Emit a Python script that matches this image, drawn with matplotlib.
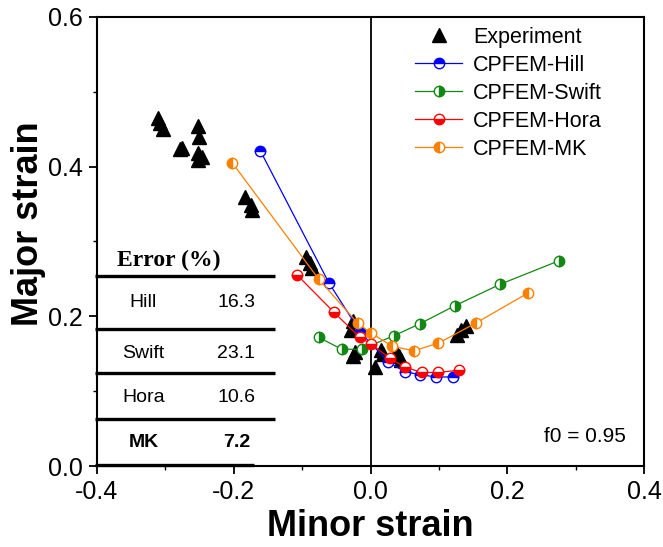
import matplotlib
matplotlib.use("Agg")
import matplotlib.pyplot as plt
from matplotlib.ticker import MultipleLocator, FormatStrFormatter

plt.rcParams['font.family'] = ['Liberation Sans', 'DejaVu Sans']

# Experimental forming-limit points (minor strain, major strain)
exp_minor = [-0.311, -0.308, -0.303, -0.279, -0.275, -0.253, -0.251, -0.253, -0.246, -0.253,
             -0.183, -0.175, -0.173, -0.094, -0.089, -0.086,
             -0.026, -0.028, -0.023, -0.026, 0.006, 0.015, 0.019, 0.038, 0.042, 0.045,
             0.127, 0.133, 0.140]
exp_major = [0.465, 0.459, 0.450, 0.424, 0.425, 0.455, 0.439, 0.418, 0.413, 0.409,
             0.360, 0.349, 0.342, 0.279, 0.271, 0.265,
             0.194, 0.182, 0.152, 0.147, 0.132, 0.155, 0.150, 0.152, 0.147, 0.142,
             0.175, 0.182, 0.187]

# CPFEM predictions
hill_minor = [-0.161, -0.061, -0.015, 0.026, 0.050, 0.073, 0.096, 0.121]
hill_major = [0.421, 0.245, 0.179, 0.139, 0.126, 0.122, 0.119, 0.119]

swift_minor = [-0.076, -0.042, -0.013, 0.034, 0.072, 0.123, 0.190, 0.275]
swift_major = [0.172, 0.156, 0.156, 0.174, 0.190, 0.214, 0.243, 0.274]

hora_minor = [-0.107, -0.054, -0.016, 0.001, 0.028, 0.051, 0.075, 0.099, 0.129]
hora_major = [0.255, 0.206, 0.172, 0.163, 0.144, 0.132, 0.125, 0.125, 0.128]

mk_minor = [-0.202, -0.076, -0.019, 0.000, 0.032, 0.063, 0.099, 0.154, 0.230]
mk_major = [0.405, 0.250, 0.191, 0.178, 0.160, 0.154, 0.164, 0.191, 0.231]

# Error table
err_models = ['Hill', 'Swift', 'Hora', 'MK']
err_values = ['16.3', '23.1', '10.6', '7.2']

x_ticks = [-0.4, -0.2, 0.0, 0.2, 0.4]
y_ticks = [0.0, 0.2, 0.4, 0.6]

W, H = 663, 547
fig = plt.figure(figsize=(W / 100, H / 100), dpi=100)
ax = fig.add_axes([97 / W, 1 - 466 / H, (644 - 97) / W, (466 - 17) / H])

ax.set_xlim(-0.4, 0.4)
ax.set_ylim(0.0, 0.6)

ax.axvline(0.0, color='black', lw=1.3, zorder=1)

ax.plot(exp_minor, exp_major, linestyle='none', marker='^', ms=10,
        color='black', label='Experiment', zorder=2)

ms = 7.5
series = [
    (hill_minor, hill_major, '#0000FF', 'top', 'CPFEM-Hill'),
    (swift_minor, swift_major, '#118811', 'right', 'CPFEM-Swift'),
    (hora_minor, hora_major, '#FF0000', 'bottom', 'CPFEM-Hora'),
    (mk_minor, mk_major, '#FF8000', 'left', 'CPFEM-MK'),
]
for xs, ys, c, fs, lab in series:
    ax.plot(xs, ys, '-', color=c, lw=0.9, marker='o', ms=ms, fillstyle=fs,
            markerfacecolor=c, markerfacecoloralt='white', markeredgecolor=c,
            markeredgewidth=1.0, label=lab, zorder=3)

# Error table drawn inside the axes
line_kw = dict(color='black', lw=2.4, solid_capstyle='butt', clip_on=False, zorder=4)
for yv in [0.254, 0.183, 0.124, 0.063]:
    ax.plot([-0.403, -0.140], [yv, yv], **line_kw)
ax.plot([-0.403, -0.170], [0.001, 0.001], **line_kw)

ax.text(-0.295, 0.275, 'Error (%)', family=['Liberation Serif', 'DejaVu Serif'],
        fontweight='bold', fontsize=17, ha='center', va='center')
row_y = [0.218, 0.151, 0.092, 0.032]
for i, (m, v) in enumerate(zip(err_models, err_values)):
    fw = 'bold' if m == 'MK' else 'normal'
    ax.text(-0.332, row_y[i], m, fontsize=14, fontweight=fw, ha='center', va='center')
    ax.text(-0.196, row_y[i], v, fontsize=14, fontweight=fw, ha='center', va='center')

ax.text(0.373, 0.039, 'f0 = 0.95', fontsize=15, ha='right', va='center')

# Axes styling
for s in ax.spines.values():
    s.set_linewidth(1.5)
ax.xaxis.set_major_locator(plt.FixedLocator(x_ticks))
ax.yaxis.set_major_locator(plt.FixedLocator(y_ticks))
ax.xaxis.set_minor_locator(MultipleLocator(0.1))
ax.yaxis.set_minor_locator(MultipleLocator(0.1))
ax.xaxis.set_major_formatter(FormatStrFormatter('%.1f'))
ax.yaxis.set_major_formatter(FormatStrFormatter('%.1f'))
ax.tick_params(which='major', direction='out', length=6, width=1.3, labelsize=18, pad=4)
ax.tick_params(which='minor', direction='out', length=3, width=1.0)
ax.tick_params(top=False, right=False)

fig.text(29 / W, 1 - 224 / H, 'Major strain', rotation=90, ha='center', va='center',
         fontsize=26, fontweight='bold')
fig.text(370 / W, 1 - 526 / H, 'Minor strain', ha='center', va='center',
         fontsize=26, fontweight='bold')

leg = ax.legend(loc='upper left', bbox_to_anchor=(415 / W, 1 - 27 / H),
                bbox_transform=fig.transFigure, frameon=False, fontsize=15.5,
                handlelength=2.2, handletextpad=0.5, labelspacing=0.32,
                borderpad=0, borderaxespad=0, numpoints=1)

fig.savefig('out.png', dpi=100)
